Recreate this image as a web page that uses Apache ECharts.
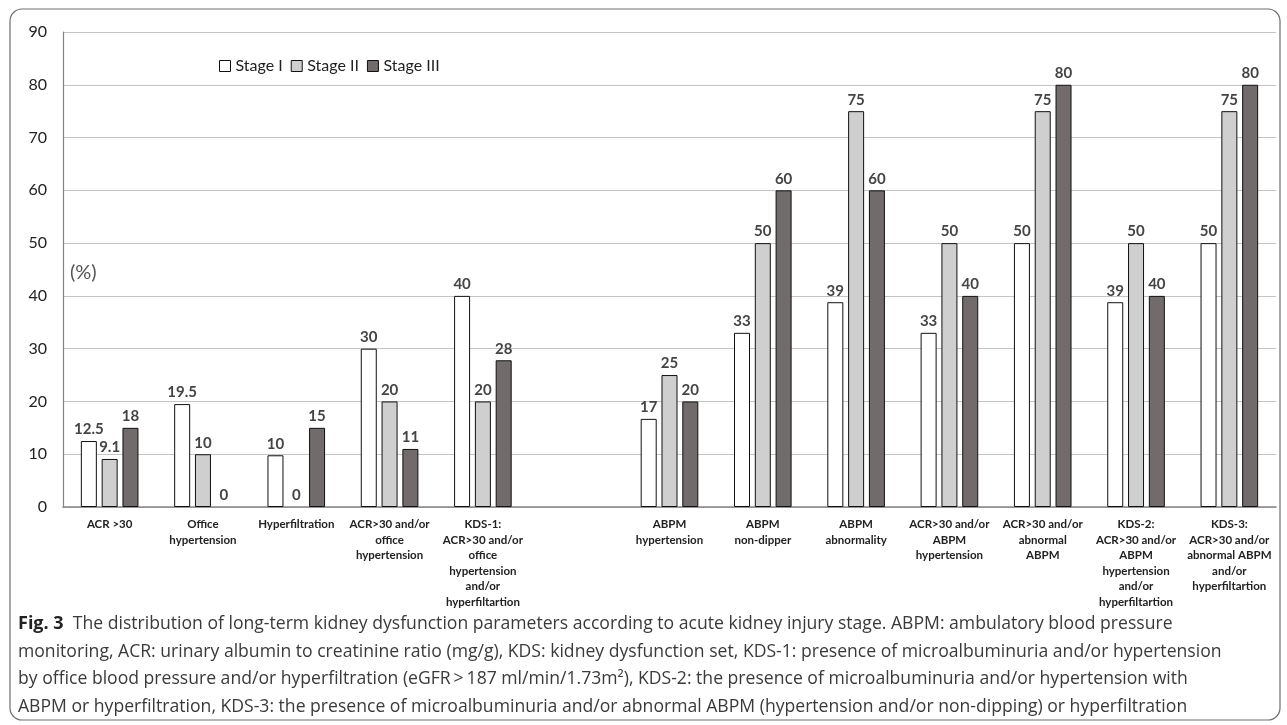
<!DOCTYPE html>
<html>
<head>
<meta charset="utf-8">
<script src="https://cdn.jsdelivr.net/npm/echarts@6/dist/echarts.min.js"></script>
<style>
html,body{margin:0;padding:0;background:#fff;}
#c{width:1287px;height:725px;}
</style>
</head>
<body>
<div id="c"></div>
<script>
// ---- data ----
const categories = [
  "ACR >30",
  "Office\nhypertension",
  "Hyperfiltration",
  "ACR>30 and/or\noffice\nhypertension",
  "KDS-1:\nACR>30 and/or\noffice\nhypertension\nand/or\nhyperfiltartion",
  "",
  "ABPM\nhypertension",
  "ABPM\nnon-dipper",
  "ABPM\nabnormality",
  "ACR>30 and/or\nABPM\nhypertension",
  "ACR>30 and/or\nabnormal\nABPM",
  "KDS-2:\nACR>30 and/or\nABPM\nhypertension\nand/or\nhyperfiltartion",
  "KDS-3:\nACR>30 and/or\nabnormal ABPM\nand/or\nhyperfiltartion"
];
const seriesNames = ["Stage I", "Stage II", "Stage III"];
// bar heights as drawn
const stage1 = [12.5, 19.5, 9.8, 30, 40, null, 16.7, 33, 38.8, 33, 50, 38.8, 50];
const stage2 = [9.1, 10, 0, 20, 20, null, 25, 50, 75, 50, 75, 50, 75];
const stage3 = [15, 0, 15, 11, 27.8, null, 20, 60, 60, 40, 80, 40, 80];
// printed value labels
const labels1 = ["12.5", "19.5", "10", "30", "40", "", "17", "33", "39", "33", "50", "39", "50"];
const labels2 = ["9.1", "10", "0", "20", "20", "", "25", "50", "75", "50", "75", "50", "75"];
const labels3 = ["18", "0", "15", "11", "28", "", "20", "60", "60", "40", "80", "40", "80"];
const yTicks = [0, 10, 20, 30, 40, 50, 60, 70, 80, 90];
const captionLines = [
  "The distribution of long-term kidney dysfunction parameters according to acute kidney injury stage. ABPM: ambulatory blood pressure",
  "monitoring, ACR: urinary albumin to creatinine ratio (mg/g), KDS: kidney dysfunction set, KDS-1: presence of microalbuminuria and/or hypertension",
  "by office blood pressure and/or hyperfiltration (eGFR\u2009>\u2009187 ml/min/1.73m\u00B2), KDS-2: the presence of microalbuminuria and/or hypertension with",
  "ABPM or hyperfiltration, KDS-3: the presence of microalbuminuria and/or abnormal ABPM (hypertension and/or non-dipping) or hyperfiltration"
];
const colors = ["#ffffff", "#d0cfcf", "#716c6b"];

// ---- chart ----
const chart = echarts.init(document.getElementById('c'));
const allData = [stage1, stage2, stage3];
const allLabels = [labels1, labels2, labels3];

const series = seriesNames.map((name, i) => ({
  name: name,
  type: 'bar',
  data: allData[i].map(v => (v === 0 ? { value: 0, itemStyle: { borderWidth: 0 } } : v)),
  barWidth: 16,
  barGap: '30%',
  itemStyle: { color: colors[i], borderColor: '#111', borderWidth: 1 },
  label: {
    show: true,
    position: 'top',
    distance: 4,
    fontFamily: 'Lato',
    fontWeight: 'bold',
    fontSize: 15,
    color: '#444',
    formatter: p => allLabels[i][p.dataIndex]
  },
  emphasis: { disabled: true }
}));

const captionFont = "'Open Sans', 'Noto Sans', sans-serif";
const graphics = [
  { type: 'rect', shape: { x: 10, y: 9, width: 1270, height: 711, r: 12 },
    style: { fill: 'none', stroke: '#6e6e6e', lineWidth: 1.2 }, z: -1 },
  { type: 'text', left: 70, top: 263,
    style: { text: '(%)', fontFamily: 'Lato', fontSize: 20, fill: '#555' } }
];
captionLines.forEach((line, k) => {
  graphics.push({
    type: 'text', left: 18, top: 615 + k * 27.5,
    style: {
      text: k === 0 ? '{b|Fig. 3}  ' + line : line,
      fontFamily: captionFont, fontSize: 17.6, fill: '#3a3a3a',
      rich: { b: { fontFamily: captionFont, fontWeight: 'bold', fontSize: 18, fill: '#222' } }
    }
  });
});

chart.setOption({
  animation: false,
  grid: { left: 63, right: 11, top: 32, bottom: 218, containLabel: false },
  legend: {
    left: 214, top: 53,
    icon: 'rect', itemWidth: 11, itemHeight: 11, itemGap: 8,
    textStyle: { fontFamily: 'Lato', fontSize: 16, color: '#222' },
    data: seriesNames.map((n, i) => ({ name: n, itemStyle: { color: colors[i], borderColor: '#111', borderWidth: 1 } }))
  },
  xAxis: {
    type: 'category',
    data: categories,
    axisLine: { lineStyle: { color: '#858585', width: 1.5 } },
    axisTick: { show: false },
    axisLabel: {
      interval: 0, margin: 10,
      fontFamily: 'Lato', fontWeight: 'bold', fontSize: 11.5, lineHeight: 15.5, color: '#222'
    }
  },
  yAxis: {
    type: 'value', min: 0, max: 90, interval: 10,
    axisLine: { show: true, lineStyle: { color: '#858585', width: 1.2 } },
    axisTick: { show: false },
    splitLine: { lineStyle: { color: '#c4c4c4', width: 1.2 } },
    axisLabel: {
      margin: 16, fontFamily: 'Lato', fontSize: 16, color: '#222',
      formatter: v => yTicks.includes(v) ? String(v) : ''
    }
  },
  graphic: graphics,
  series: series
});
</script>
</body>
</html>
